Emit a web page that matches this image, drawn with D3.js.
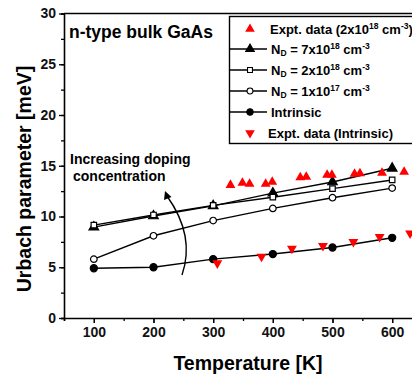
<!DOCTYPE html>
<html>
<head>
<meta charset="utf-8">
<script src="https://cdn.jsdelivr.net/npm/d3@7"></script>
<style>
  body { margin: 0; background: #fff; }
  svg { display: block; font-family: "Liberation Sans", Arial, sans-serif; font-weight: bold; }
</style>
</head>
<body>
<div id="chart"></div>
<script>
// model curves, sampled at these temperatures
const temps = [100, 200, 300, 400, 500, 600];
const intrinsic = [4.9, 5.0, 5.8, 6.3, 6.95, 7.9];
const nd1e17 = [5.8, 8.1, 9.6, 10.8, 11.85, 12.8];
const nd2e18 = [9.15, 10.15, 11.1, 11.9, 12.75, 13.6];
const nd7e18 = [8.95, 10.05, 11.05, 12.3, 13.4, 14.75];

// experimental points
const exptDopedT = [329, 349, 361, 388, 399, 446, 456, 491, 499, 537, 546, 583, 620];
const exptDopedU = [13.1, 13.3, 13.2, 13.2, 13.4, 13.85, 13.9, 14.1, 14.1, 14.2, 14.25, 14.3, 14.4];
const exptIntrT = [307, 381, 432, 484, 535, 579, 630];
const exptIntrU = [5.4, 6.05, 6.85, 7.1, 7.5, 8.0, 8.35];

const xTicks = [100, 200, 300, 400, 500, 600];
const yTicks = [0, 5, 10, 15, 20, 25, 30];

const W = 412, H = 381;
const x = d3.scaleLinear().domain([50, 650]).range([64, 422]);
const y = d3.scaleLinear().domain([0, 30]).range([318, 13.5]);

const svg = d3.select("#chart").append("svg")
  .attr("width", W).attr("height", H);

const zip = (xs, ys) => xs.map((t, i) => [t, ys[i]]);

// frame top
svg.append("line")
  .attr("x1", x(50)).attr("x2", x(650))
  .attr("y1", y(30)).attr("y2", y(30))
  .attr("stroke", "#000").attr("stroke-width", 1.5);

// x axis
const xAxis = svg.append("g").attr("transform", `translate(0,${y(0)})`);
xAxis.call(d3.axisBottom(x).tickValues(d3.range(50, 651, 50)).tickSize(3).tickFormat(""));
xAxis.call(g => g.selectAll(".tick").filter(d => d % 100 === 0).select("line").attr("y2", 5));
xAxis.append("g").call(d3.axisBottom(x).tickValues(xTicks).tickSize(5).tickPadding(4))
  .call(g => g.select(".domain").remove());

// y axis
const yAxis = svg.append("g").attr("transform", `translate(${x(50)},0)`);
yAxis.call(d3.axisLeft(y).tickValues(d3.range(0, 30.1, 2.5)).tickSize(3).tickFormat(""));
yAxis.append("g").call(d3.axisLeft(y).tickValues(yTicks).tickSize(5).tickPadding(3))
  .call(g => g.select(".domain").remove());

svg.selectAll(".domain").attr("stroke-width", 1.6);
svg.selectAll(".tick line").attr("stroke-width", 1.3);
svg.selectAll(".tick text")
  .attr("font-size", 14).attr("font-weight", "bold")
  .attr("font-family", "Liberation Sans, Arial, sans-serif").attr("fill", "#111");

// axis titles
svg.append("text")
  .attr("x", 248).attr("y", 370)
  .attr("text-anchor", "middle").attr("font-size", 19.5)
  .text("Temperature [K]");
svg.append("text")
  .attr("transform", `translate(31,179) rotate(-90)`)
  .attr("text-anchor", "middle").attr("font-size", 19.5)
  .text("Urbach parameter [meV]");

// lines
const line = d3.line().x(d => x(d[0])).y(d => y(d[1]));
const series = [
  { vals: nd7e18, sym: d3.symbolTriangle, fill: "#000", size: 40 },
  { vals: nd2e18, sym: d3.symbolSquare, fill: "#fff", size: 30 },
  { vals: nd1e17, sym: d3.symbolCircle, fill: "#fff", size: 34 },
  { vals: intrinsic, sym: d3.symbolCircle, fill: "#000", size: 40 }
];
series.forEach(s => {
  svg.append("path")
    .attr("d", line(zip(temps, s.vals)))
    .attr("fill", "none").attr("stroke", "#000").attr("stroke-width", 1.4);
});
series.forEach(s => {
  svg.append("g").selectAll("path")
    .data(zip(temps, s.vals))
    .join("path")
    .attr("transform", d => `translate(${x(d[0])},${y(d[1])})`)
    .attr("d", d3.symbol(s.sym, s.size))
    .attr("fill", s.fill).attr("stroke", "#000").attr("stroke-width", 1.2);
});

// experimental points
const upTri = d3.symbol(d3.symbolTriangle, 42);
svg.append("g").selectAll("path")
  .data(zip(exptDopedT, exptDopedU))
  .join("path")
  .attr("transform", d => `translate(${x(d[0])},${y(d[1])})`)
  .attr("d", upTri).attr("fill", "#f00");
svg.append("g").selectAll("path")
  .data(zip(exptIntrT, exptIntrU))
  .join("path")
  .attr("transform", d => `translate(${x(d[0])},${y(d[1])}) rotate(180)`)
  .attr("d", upTri).attr("fill", "#f00");

// annotations
svg.append("text").attr("x", 69).attr("y", 38).attr("font-size", 17.5)
  .text("n-type bulk GaAs");
svg.append("text").attr("x", 70).attr("y", 164).attr("font-size", 14)
  .text("Increasing doping");
svg.append("text").attr("x", 73).attr("y", 181).attr("font-size", 14)
  .text("concentration");

// curved arrow
const arc = d3.path();
arc.moveTo(182, 275);
arc.quadraticCurveTo(195.5, 236, 167, 196);
svg.append("path").attr("d", arc.toString())
  .attr("fill", "none").attr("stroke", "#000").attr("stroke-width", 1.4);
svg.append("path")
  .attr("d", "M165,191 L171.5,197 L164,200 Z")
  .attr("fill", "#000");

// legend
const lg = svg.append("g");
lg.append("rect")
  .attr("x", 229.5).attr("y", 16.5).attr("width", 200).attr("height", 127)
  .attr("fill", "#fff").attr("stroke", "#000").attr("stroke-width", 1.4);

const rows = [
  { y: 29, kind: "exptUp", parts: [["Expt. data (2x10", 0], ["18", 1], [" cm", 0], ["-3", 1], [")", 0]] },
  { y: 49, kind: 0, parts: [["N", 0], ["D", -1], [" = 7x10", 0], ["18", 1], [" cm", 0], ["-3", 1]] },
  { y: 70, kind: 1, parts: [["N", 0], ["D", -1], [" = 2x10", 0], ["18", 1], [" cm", 0], ["-3", 1]] },
  { y: 91, kind: 2, parts: [["N", 0], ["D", -1], [" = 1x10", 0], ["17", 1], [" cm", 0], ["-3", 1]] },
  { y: 112, kind: 3, parts: [["Intrinsic", 0]] },
  { y: 133, kind: "exptDown", parts: [["Expt. data (Intrinsic)", 0]] }
];
const legTri = d3.symbol(d3.symbolTriangle, 40);
rows.forEach(r => {
  let tx = 271;
  if (r.kind === "exptUp") {
    lg.append("path").attr("transform", `translate(250,${r.y})`).attr("d", legTri).attr("fill", "#f00");
    tx = 270;
  } else if (r.kind === "exptDown") {
    lg.append("path").attr("transform", `translate(250,${r.y}) rotate(180)`).attr("d", legTri).attr("fill", "#f00");
    tx = 268;
  } else {
    const s = series[r.kind];
    lg.append("line").attr("x1", 229.5).attr("x2", 267).attr("y1", r.y).attr("y2", r.y)
      .attr("stroke", "#000").attr("stroke-width", 1.4);
    lg.append("path").attr("transform", `translate(250,${r.y})`)
      .attr("d", d3.symbol(s.sym, s.size * 0.8))
      .attr("fill", s.fill).attr("stroke", "#000").attr("stroke-width", 1.1);
  }
  const t = lg.append("text").attr("x", tx).attr("y", r.y + 4.5).attr("font-size", 13);
  r.parts.forEach(([txt, shift]) => {
    const ts = t.append("tspan").text(txt);
    if (shift === 1) ts.attr("font-size", 8.5).attr("baseline-shift", "55%");
    if (shift === -1) ts.attr("font-size", 8.5).attr("baseline-shift", "-25%");
  });
});
</script>
</body>
</html>
